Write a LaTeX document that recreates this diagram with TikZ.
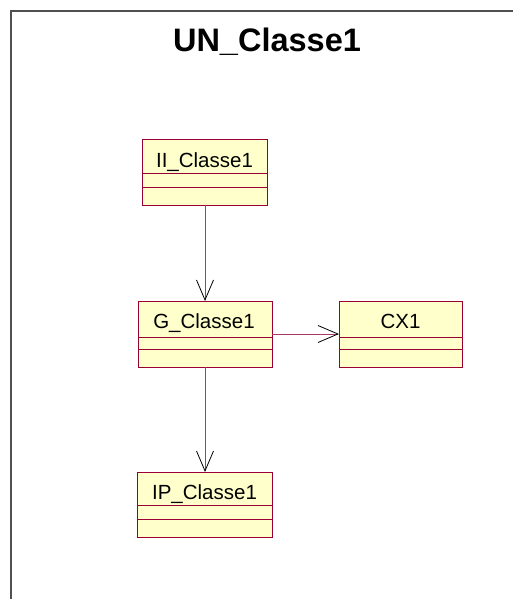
\documentclass[tikz,border=0pt]{standalone}
\usepackage{fontspec}
\setmainfont{Liberation Sans}
\usetikzlibrary{arrows.meta}
\definecolor{classfill}{HTML}{FFFFCC}
\definecolor{classline}{HTML}{990033}
\definecolor{linkline}{HTML}{A83A68}
\definecolor{framegray}{HTML}{505050}
\tikzset{
  classbox/.style={draw=classline, fill=classfill, line width=1pt, inner sep=0pt, outer sep=0pt},
  classname/.style={font=\fontsize{20.5}{24}\selectfont, inner sep=0pt, anchor=base},
  divider/.style={classline, line width=0.9pt},
  dep/.style={linkline, line width=0.9pt,
    -{Straight Barb[length=20pt, width=17pt, color=black, line width=0.8pt]}},
}
\begin{document}
\begin{tikzpicture}[x=1pt, y=-1pt]
  \useasboundingbox (0,0) rectangle (513,599);
  % package frame
  \draw[framegray, line width=1.5pt] (11,610) -- (11,11) -- (530,11);
  \node[font=\bfseries\fontsize{32.5}{38}\selectfont, anchor=base] (title) at (267,52) {UN\_Classe1};

  % classes: box, then the two compartment lines
  \node[classbox, minimum width=125pt, minimum height=66pt] (ii) at (205,172) {};
  \draw[divider] (142.5,173) -- (267.5,173);
  \draw[divider] (142.5,187) -- (267.5,187);
  \node[classname] (iiname) at (204.5,167) {II\_Classe1};

  \node[classbox, minimum width=134pt, minimum height=66pt] (g) at (205,334) {};
  \draw[divider] (138,337) -- (272,337);
  \draw[divider] (138,349) -- (272,349);
  \node[classname] (gname) at (204,328) {G\_Classe1};

  \node[classbox, minimum width=123pt, minimum height=66pt] (cx) at (400.5,334) {};
  \draw[divider] (339,337) -- (462,337);
  \draw[divider] (339,349) -- (462,349);
  \node[classname] (cxname) at (400.5,328) {CX1};

  \node[classbox, minimum width=135pt, minimum height=65pt] (ip) at (205,504.5) {};
  \draw[divider] (137.5,505) -- (272.5,505);
  \draw[divider] (137.5,519) -- (272.5,519);
  \node[classname] (ipname) at (204.5,499) {IP\_Classe1};

  % dependencies
  \draw[dep] (ii.south) -- (g.north);
  \draw[dep] (g.east) -- (cx.west);
  \draw[dep] (g.south) -- (ip.north);
\end{tikzpicture}
\end{document}
